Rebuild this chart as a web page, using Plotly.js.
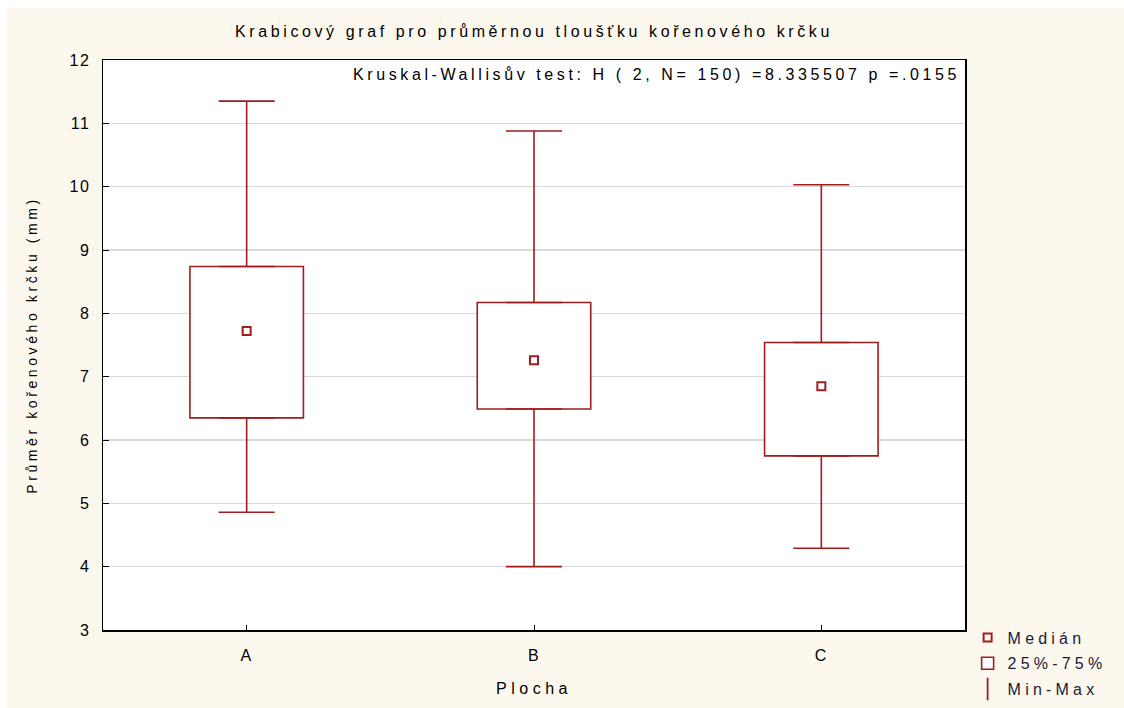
<!DOCTYPE html>
<html>
<head>
<meta charset="utf-8">
<script src="https://cdn.plot.ly/plotly-3.0.1.min.js"></script>
<style>
html,body{margin:0;padding:0;background:#ffffff;}
#chart{position:absolute;left:7px;top:8px;width:1117px;height:700px;}
text.gtitle{letter-spacing:3.6px;}
text.annotation-text{letter-spacing:3.6px;}
text.xtitle{letter-spacing:4.5px;}
text.ytitle{letter-spacing:3.6px;}
text.legendtext{letter-spacing:4.2px;}
.xtick text,.ytick text{letter-spacing:1.5px;}
</style>
</head>
<body>
<div id="chart"></div>
<script>
// Data
const categories = ['A', 'B', 'C'];
const minVals    = [4.86, 4.00, 4.29];
const q1Vals     = [6.35, 6.49, 5.75];
const medianVals = [7.72, 7.26, 6.85];
const q3Vals     = [8.74, 8.17, 7.54];
const maxVals    = [11.35, 10.88, 10.03];
const yTicks     = [3, 4, 5, 6, 7, 8, 9, 10, 11, 12];

const RED = '#9e1e1e';
const FONT = 'Liberation Sans, Arial, sans-serif';

const boxHeights = q3Vals.map((v, i) => v - q1Vals[i]);
const upperLen = maxVals.map((v, i) => v - q3Vals[i]);
const lowerLen = q1Vals.map((v, i) => v - minVals[i]);
const zeros = categories.map(() => 0);

const traces = [
  {
    type: 'scatter', mode: 'markers', name: 'Medián', x: categories, y: medianVals,
    marker: {symbol: 'square-open', size: 8, color: RED, line: {color: RED, width: 2}},
    hoverinfo: 'skip', legendrank: 1, legendgroup: 'g1'
  },
  {
    type: 'bar', name: '25%-75%', x: categories, y: boxHeights, base: q1Vals,
    width: 0.395,
    marker: {color: '#ffffff', line: {color: RED, width: 1.6}},
    hoverinfo: 'skip', legendrank: 2, legendgroup: 'g2'
  },
  {
    type: 'scatter', mode: 'markers', name: 'Min-Max', x: categories, y: q3Vals,
    marker: {symbol: 'line-ns-open', size: 16, color: RED, line: {color: RED, width: 1.8}},
    selectedpoints: [], unselected: {marker: {opacity: 0}},
    error_y: {type: 'data', symmetric: false, array: upperLen, arrayminus: zeros, width: 28, thickness: 1.6, color: RED},
    hoverinfo: 'skip', legendrank: 3, legendgroup: 'g3'
  },
  {
    type: 'scatter', mode: 'markers', name: 'Min-Max', x: categories, y: q1Vals, showlegend: false,
    marker: {size: 1, opacity: 0},
    error_y: {type: 'data', symmetric: false, array: zeros, arrayminus: lowerLen, width: 28, thickness: 1.6, color: RED},
    hoverinfo: 'skip', legendgroup: 'g3'
  }
];

const layout = {
  width: 1117, height: 700,
  paper_bgcolor: '#fdf8ee', plot_bgcolor: '#ffffff',
  margin: {l: 96, r: 159, t: 52, b: 78},
  font: {family: FONT, size: 16, color: '#000000'},
  title: {text: 'Krabicový graf pro průměrnou tloušťku kořenového krčku',
          font: {family: FONT, size: 16, color: '#000000'},
          x: 0.5, xanchor: 'center', xref: 'paper', y: 0.966, yanchor: 'middle'},
  showlegend: true,
  legend: {xref: 'container', yref: 'container', x: 0.86, xanchor: 'left', y: 0.125, yanchor: 'top',
           bgcolor: 'rgba(0,0,0,0)',
           font: {family: FONT, size: 16, color: '#1a1a3a'}, itemwidth: 30,
           traceorder: 'grouped', tracegroupgap: 2},
  xaxis: {
    type: 'category', range: [-0.5, 2.5], automargin: false,
    showline: true, mirror: true, linecolor: '#000000', linewidth: 1.5,
    ticks: 'inside', ticklen: 5, tickcolor: '#000000',
    showgrid: false, zeroline: false,
    tickfont: {family: FONT, size: 16, color: '#000000'},
    ticklabelstandoff: 10,
    title: {text: 'Plocha', font: {family: FONT, size: 16, color: '#000000'}, standoff: 20}
  },
  yaxis: {
    range: [3, 12], tickvals: yTicks, automargin: false,
    showline: true, mirror: true, linecolor: '#000000', linewidth: 1.5,
    ticks: 'inside', ticklen: 6, tickcolor: '#000000',
    showgrid: true, gridcolor: '#d9d9d9', gridwidth: 1.2, zeroline: false,
    tickfont: {family: FONT, size: 16, color: '#000000'},
    ticklabelstandoff: 8,
    title: {text: 'Průměr kořenového krčku (mm)', font: {family: FONT, size: 14, color: '#000000'}, standoff: 28}
  },
  annotations: [{
    text: 'Kruskal-Wallisův test: H ( 2, N= 150) =8.335507 p =.0155',
    xref: 'paper', yref: 'paper', x: 0.997, y: 0.975, xanchor: 'right', yanchor: 'middle',
    showarrow: false, font: {family: FONT, size: 16, color: '#000000'}
  }],
  bargap: 0
};

Plotly.newPlot('chart', traces, layout, {displayModeBar: false, staticPlot: true});
</script>
</body>
</html>
